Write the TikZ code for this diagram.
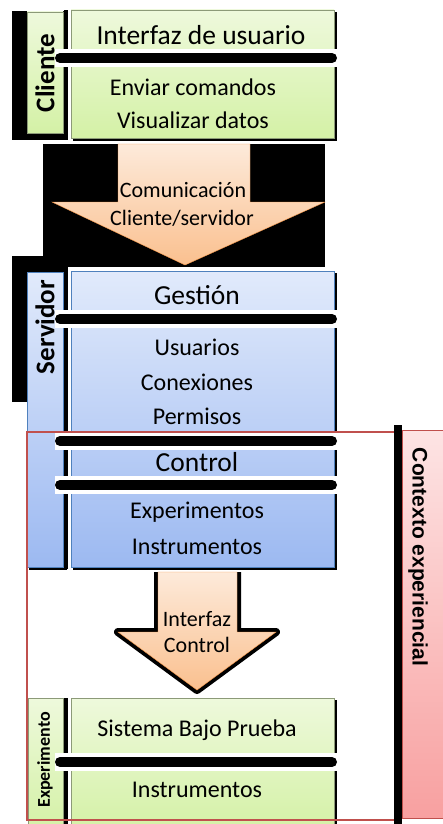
\documentclass[tikz,border=0pt]{standalone}
\usepackage{fontspec}
\setmainfont{Carlito}
\newfontfamily\ctxfont{Liberation Sans}
\definecolor{grtop}{HTML}{EEF9DC}
\definecolor{grbot}{HTML}{D4F1A6}
\definecolor{grline}{HTML}{8C9A78}
\definecolor{bltop}{HTML}{E1EAFB}
\definecolor{blbot}{HTML}{9CB9F1}
\definecolor{blline}{HTML}{4F81BD}
\definecolor{pctop}{HTML}{FDEADA}
\definecolor{pcbot}{HTML}{FAC08F}
\definecolor{pcline}{HTML}{F79646}
\definecolor{pktop}{HTML}{FDE4E4}
\definecolor{pkbot}{HTML}{F8A0A0}
\definecolor{frame}{HTML}{C0504D}
\newcommand\Layer[5]{%
    \fill (73,#1+2) rectangle (337,#2+3);
    \shade[top color=#3,bottom color=#4,draw=#5] (71,#1) rectangle (334,#2);
    \fill (64,#1) rectangle (68,#2+2);
}
\newcommand\Divider[1]{%
    \fill[white] (55,#1-9) rectangle (337,#1+9);
    \draw[line width=10pt,line cap=round] (60,#1) -- (332,#1);
}

\begin{document}
\begin{tikzpicture}[x=1pt,y=-1pt,
    body/.style={inner sep=0pt,font=\fontsize{24}{28}\selectfont},
    title/.style={inner sep=0pt,font=\fontsize{27.5}{32}\selectfont},
    side/.style={inner sep=0pt,rotate=90,font=\fontsize{27}{32}\selectfont\bfseries},
    arrowtext/.style={inner sep=0pt,font=\fontsize{22}{26}\selectfont}]
    \useasboundingbox (0,0) rectangle (443,824);
    \begin{scope} % Cliente
        \fill (12,11) rectangle (67,140);
        \shade[top color=grtop,bottom color=grbot,draw=grline] (27,12) rectangle (63,133);
        \Layer{10}{138}{grtop}{grbot}{grline}
        \Divider{58}
        \node[title] (usuario) at (201,35) {Interfaz de usuario};
        \node[body] (enviar) at (193,87) {Enviar comandos};
        \node[body] (visual) at (193,120) {Visualizar datos};
        \node[side] (cliente) at (45,73) {Cliente};
    \end{scope}
    \begin{scope} % Comunicacion
        \fill (43,144) rectangle (325,267);
        \shade[top color=pctop,bottom color=pcbot,draw=pcline] (118,144) -- (250,144) -- (250,202)
            -- (325,202) -- (185,265) -- (52,202) -- (118,202) -- cycle;
        \node[arrowtext] (comu) at (183,190) {Comunicación};
        \node[arrowtext] (clise) at (182,218) {Cliente/servidor};
    \end{scope}
    \begin{scope} % Servidor
        \fill (12,256) rectangle (68,402);
        \fill (29,274) rectangle (67,570);
        \shade[top color=bltop,bottom color=blbot,draw=blline] (27,272) rectangle (63,567);
        \Layer{271}{567}{bltop}{blbot}{blline}
        \Divider{319}
        \Divider{441}
        \Divider{485}
        \node[title] (gestion) at (197,295) {Gestión};
        \node[body] (usuarios) at (197,347) {Usuarios};
        \node[body] (conex) at (197,382) {Conexiones};
        \node[body] (permisos) at (197,416) {Permisos};
        \node[title] (control) at (197,462) {Control};
        \node[body] (experim) at (197,512) {Experimentos};
        \node[body] (instr) at (197,547) {Instrumentos};
        \node[side] (servidor) at (45,327) {Servidor};
    \end{scope}
    \begin{scope} % Interfaz Control
        \draw[line width=8pt,line join=round] (158,572) -- (158,632) -- (118,632) -- (197,690)
            -- (276,632) -- (237,632) -- (237,572);
        \shade[top color=pctop,bottom color=pcbot,draw=pcline] (158,572) -- (158,632) -- (118,632)
            -- (197,690) -- (276,632) -- (237,632) -- (237,572) -- cycle;
        \node[arrowtext] (interfaz) at (197,619) {Interfaz};
        \node[arrowtext] (ctrl) at (197,645) {Control};
    \end{scope}
    \begin{scope} % Experimento
        \shade[top color=grtop,bottom color=grbot,draw=grline] (28,698) rectangle (63,830);
        \Layer{698}{830}{grtop}{grbot}{grline}
        \Divider{762}
        \node[body] (sbp) at (197,730) {Sistema Bajo Prueba};
        \node[body] (instr2) at (197,790) {Instrumentos};
        \node[side,font=\fontsize{18}{22}\selectfont\bfseries] (experimento) at (45,760) {Experimento};
    \end{scope}
    \begin{scope} % Contexto experiencial
        \draw[frame,line width=2.5pt] (27,432) rectangle (395,820);
        \fill (394,425) rectangle (402,824);
        \shade[top color=pktop,bottom color=pkbot,draw=frame] (402,430) rectangle (450,818);
        \node[inner sep=0pt,rotate=-90,font=\ctxfont\fontsize{21}{25}\selectfont\bfseries] (contexto) at (418,557) {Contexto experiencial};
    \end{scope}
\end{tikzpicture}
\end{document}
